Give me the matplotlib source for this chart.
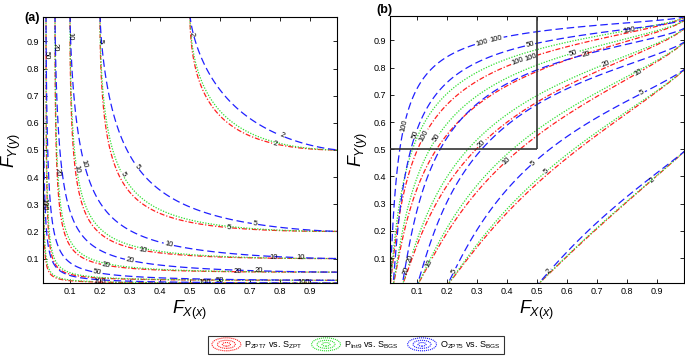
import numpy as np
import matplotlib
matplotlib.use("Agg")
import matplotlib.pyplot as plt
from matplotlib.lines import Line2D
from matplotlib.patches import Ellipse
from matplotlib.legend_handler import HandlerBase

plt.rcParams["font.family"] = ["Liberation Sans", "DejaVu Sans"]
plt.rcParams["mathtext.fontset"] = "custom"
plt.rcParams["mathtext.rm"] = "Liberation Sans"
plt.rcParams["mathtext.it"] = "Liberation Sans:italic"

# === Data ===
return_periods = [2, 5, 10, 20, 50, 100]
series_names = [r"P$_{\rm ZPT7}$ vs. S$_{\rm ZPT}$",
                r"P$_{\rm Int9}$ vs. S$_{\rm BGS}$",
                r"O$_{\rm ZPT5}$ vs. S$_{\rm BGS}$"]
gumbel_theta = [2.0, 1.85, 1.4]   # dependence parameter per pair (estimated)
series_colors = ["#ff2020", "#30e030", "#2020ff"]
series_dashes = [(0, (4, 1.5, 1, 1.5)), (0, (1, 1.2)), (0, (6, 3))]
tick_values = [0.1, 0.2, 0.3, 0.4, 0.5, 0.6, 0.7, 0.8, 0.9]
region_limit = 0.5

# where the contour labels sit (approx. as in the original), per series
labels_a = [
    [(0.21, 0.9), (0.11, 0.92), (0.056, 0.88), (0.79, 0.55), (0.63, 0.22),
     (0.34, 0.12), (0.22, 0.07), (0.6, 0.03), (0.55, 0.012)],
    [(0.26, 0.40), (0.12, 0.43), (0.06, 0.42), (0.03, 0.85), (0.53, 0.93),
     (0.78, 0.11), (0.66, 0.06), (0.2, 0.02), (0.015, 0.3)],
    [(0.82, 0.59), (0.34, 0.45), (0.15, 0.45), (0.72, 0.25), (0.43, 0.155),
     (0.87, 0.11), (0.30, 0.09), (0.73, 0.07), (0.19, 0.04), (0.88, 0.012)],
]
labels_b = [
    [(0.40, 0.93), (0.46, 0.9), (0.14, 0.54), (0.30, 0.54), (0.39, 0.47),
     (0.86, 0.74), (0.88, 0.39), (0.15, 0.074)],
    [(0.62, 0.86), (0.73, 0.81), (0.18, 0.53), (0.52, 0.43), (0.1, 0.09),
     (0.06, 0.055), (0.8, 0.99)],
    [(0.30, 0.957), (0.36, 0.93), (0.48, 0.87), (0.67, 0.83), (0.83, 0.75),
     (0.06, 0.585), (0.097, 0.555), (0.47, 0.47), (0.23, 0.05), (0.54, 0.05),
     (0.015, 0.09)],
]


def gumbel(u, v, theta):
    s = (-np.log(u)) ** theta + (-np.log(v)) ** theta
    return np.exp(-s ** (1.0 / theta))


grid = np.linspace(0.001, 0.999, 500)
U, V = np.meshgrid(grid, grid)
levels = sorted(1.0 / t for t in return_periods)
fmt = {1.0 / t: str(t) for t in return_periods}

fig = plt.figure(figsize=(6.85, 3.59), dpi=100)
ax_a = fig.add_axes([0.0628, 0.2117, 0.429, 0.741])
ax_b = fig.add_axes([0.5693, 0.2125, 0.429, 0.7435])

for i, theta in enumerate(gumbel_theta):
    C = gumbel(U, V, theta)
    cs_a = ax_a.contour(U, V, C, levels=levels, colors=series_colors[i], linewidths=0.9)
    cs_a.set_linestyle(series_dashes[i])
    ax_a.clabel(cs_a, fmt=fmt, fontsize=5.5, colors="k", inline=True,
                inline_spacing=1, manual=labels_a[i])
    cs_b = ax_b.contour(U, V, U - C, levels=levels, colors=series_colors[i], linewidths=0.9)
    cs_b.set_linestyle(series_dashes[i])
    ax_b.clabel(cs_b, fmt=fmt, fontsize=5.5, colors="k", inline=True,
                inline_spacing=1, manual=labels_b[i])

ax_b.hlines(region_limit, 0.0, region_limit, color="#333333", lw=1.2, zorder=5)
ax_b.vlines(region_limit, region_limit, 1.0, color="#333333", lw=1.2, zorder=5)

for ax, tag, tx, ty in [(ax_a, "(a)", -0.01, 0.975), (ax_b, "(b)", 0.01, 1.0)]:
    ax.set_xlim(0.01, 0.99)
    ax.set_ylim(0.01, 0.99)
    ax.set_xticks(tick_values)
    ax.set_yticks(tick_values)
    ax.tick_params(direction="in", top=True, right=True, length=3, width=0.6,
                   labelsize=6.5, pad=3)
    for sp in ax.spines.values():
        sp.set_linewidth(0.8)
    ax.set_xlabel(r"$F_{X(x)}$", fontsize=13, labelpad=2)
    ax.set_ylabel(r"$F_{Y(y)}$", fontsize=13, labelpad=2)
    ax.text(tx, ty, tag, transform=ax.transAxes, fontsize=9, fontweight="bold",
            ha="right", va="bottom")


class HandlerRings(HandlerBase):
    def create_artists(self, legend, orig_handle, xdescent, ydescent, width,
                       height, fontsize, trans):
        color = orig_handle.get_color()
        cx = width / 2 - xdescent
        cy = height / 2 - ydescent
        rings = []
        for f in (1.0, 0.62, 0.28):
            rings.append(Ellipse((cx, cy), width * f, height * 1.4 * f, fill=False,
                                 edgecolor=color, lw=0.8, linestyle=(0, (1, 0.8)),
                                 transform=trans))
        return rings


handles = [Line2D([], [], color=c, label=n) for c, n in zip(series_colors, series_names)]
leg = fig.legend(handles=handles, handler_map={Line2D: HandlerRings()}, loc="lower center",
                 bbox_to_anchor=(0.52, 0.0), ncol=3, fontsize=6.5, frameon=True,
                 fancybox=False, edgecolor="black", handlelength=3.2, handleheight=1.2,
                 columnspacing=1.0, handletextpad=0.4, borderpad=0.4)
leg.get_frame().set_linewidth(0.8)

fig.savefig("out.png", dpi=100)
